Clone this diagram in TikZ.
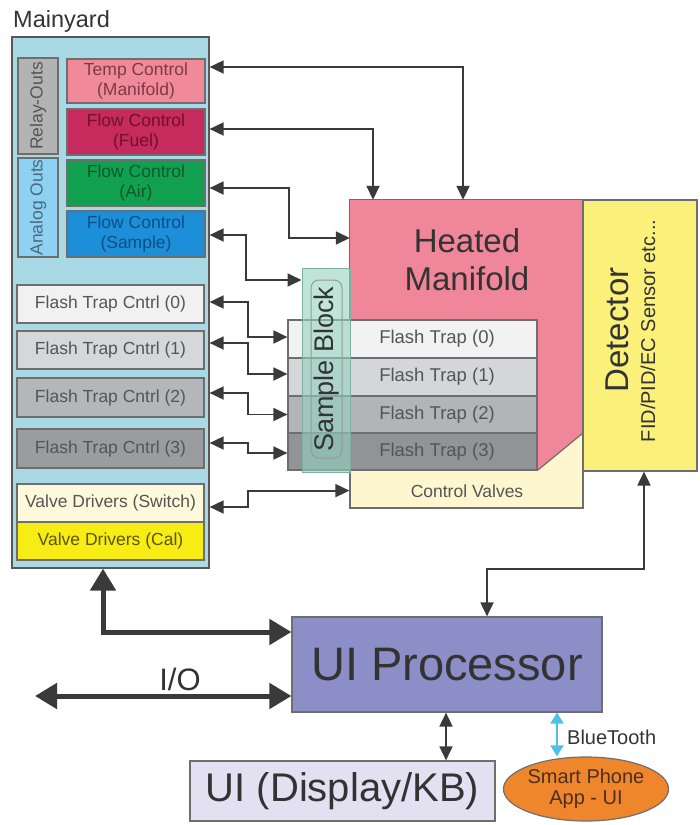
\documentclass[tikz,border=0pt]{standalone}
\usepackage{fontspec}
\setmainfont{Liberation Sans}
\usetikzlibrary{arrows.meta,calc,shapes.geometric}
\newcommand\fsz[2]{\fontsize{#1}{#2}\selectfont}

\definecolor{cpanel}{HTML}{A9D9E4}
\definecolor{crelay}{HTML}{B3B3B3}
\definecolor{canalog}{HTML}{8ED1F2}
\definecolor{ctemp}{HTML}{F08A9B}
\definecolor{cfuel}{HTML}{C72A5C}
\definecolor{cair}{HTML}{11A04F}
\definecolor{csamp}{HTML}{1C8FD8}
\definecolor{cftcA}{HTML}{F1F1F1}
\definecolor{cftcB}{HTML}{D5D7D9}
\definecolor{cftcC}{HTML}{B5B6B8}
\definecolor{cftcD}{HTML}{9B9C9E}
\definecolor{cvds}{HTML}{FDF9DA}
\definecolor{cvdc}{HTML}{F7EC14}
\definecolor{cmani}{HTML}{F08699}
\definecolor{ccv}{HTML}{FDF6CF}
\definecolor{cdet}{HTML}{FAF07A}
\definecolor{cftA}{HTML}{F2F2F2}
\definecolor{cftB}{HTML}{D4D6D9}
\definecolor{cftC}{HTML}{B3B4B6}
\definecolor{cftD}{HTML}{929396}
\definecolor{csb}{HTML}{92D3BD}
\definecolor{csbline}{HTML}{7FAFA0}
\definecolor{cuip}{HTML}{8C8FC7}
\definecolor{cdisp}{HTML}{E3E1F1}
\definecolor{cphone}{HTML}{F0862C}
\definecolor{cbt}{HTML}{4FC1E9}
\definecolor{cline}{HTML}{3A3A3A}
\definecolor{cborder}{HTML}{6E6E6E}
\definecolor{tdark}{HTML}{333333}
\definecolor{tgray}{HTML}{555555}
\definecolor{ttemp}{HTML}{7D3A46}
\definecolor{tfuel}{HTML}{6E1030}
\definecolor{tair}{HTML}{0B5A2C}
\definecolor{tsamp}{HTML}{0B4F86}
\definecolor{tanalog}{HTML}{4A6A80}
\definecolor{tvdc}{HTML}{5C5500}
\definecolor{tphone}{HTML}{4A3020}

\tikzset{
  box/.style={draw=cborder, line width=1.2pt, inner sep=0pt, align=center, font=\fsz{17.5}{20}, text=tgray},
  con/.style={draw=cline, line width=1.8pt, >={Triangle[length=14pt,width=13pt]}, <->},
  bigcon/.style={draw=cline, line width=5pt, >={Triangle[length=22pt,width=25pt]}, <->},
  btcon/.style={draw=cbt, line width=2pt, >={Triangle[length=11pt,width=13pt]}, <->},
  fttext/.style={font=\fsz{18.5}{20}, text=tgray, inner sep=0pt},
}

\begin{document}
\begin{tikzpicture}[x=1pt,y=-1pt]
\useasboundingbox (0,0) rectangle (700,825);

% Mainyard panel
\node[box, fill=cpanel, draw=cborder!80!black, minimum width=197pt, minimum height=531pt] (panel) at (110.5,302.5) {};
\node[anchor=base west, inner sep=0pt, font=\fsz{23.5}{26}, text=tdark] (title) at (13,27) {Mainyard};

\node[box, rotate=90, fill=crelay, minimum width=96pt, minimum height=40pt] (relay) at (38,106) {Relay-Outs};
\node[box, rotate=90, fill=canalog, text=tanalog, minimum width=99pt, minimum height=40pt] (analog) at (38,207.5) {Analog Outs};

\node[box, fill=ctemp, text=ttemp, minimum width=138pt, minimum height=44pt] (temp) at (136,81) {Temp Control\\(Manifold)};
\node[box, fill=cfuel, text=tfuel, minimum width=138pt, minimum height=46pt] (fuel) at (136,132) {Flow Control\\(Fuel)};
\node[box, fill=cair, text=tair, minimum width=138pt, minimum height=46pt] (air) at (136,183) {Flow Control\\(Air)};
\node[box, fill=csamp, text=tsamp, minimum width=138pt, minimum height=46pt] (samp) at (136,234) {Flow Control\\(Sample)};

\node[box, fill=cftcA, minimum width=187pt, minimum height=38pt] (ftc0) at (110.5,304) {Flash Trap Cntrl (0)};
\node[box, fill=cftcB, minimum width=187pt, minimum height=38pt] (ftc1) at (110.5,350) {Flash Trap Cntrl (1)};
\node[box, fill=cftcC, minimum width=187pt, minimum height=39pt] (ftc2) at (110.5,397.5) {Flash Trap Cntrl (2)};
\node[box, fill=cftcD, minimum width=187pt, minimum height=39pt] (ftc3) at (110.5,448.5) {Flash Trap Cntrl (3)};
\node[box, fill=cvds, minimum width=187pt, minimum height=38pt] (vds) at (110.5,503) {Valve Drivers (Switch)};
\node[box, fill=cvdc, text=tvdc, minimum width=187pt, minimum height=38pt] (vdc) at (110.5,541) {Valve Drivers (Cal)};

% Heated manifold with control valves
\node[draw=cborder, line width=1.2pt, fill=ccv, minimum width=233pt, minimum height=308pt, inner sep=0pt] (cv) at (466.5,354) {};
\node[fill=cmani, minimum width=233pt, minimum height=270pt, inner sep=0pt] (manifold) at (466.5,335) {};
\fill[ccv] (583,433) -- (583,470) -- (538,470) -- cycle;
\draw[cborder, line width=1.2pt] (538,470) -- (583,433);
\draw[cborder, line width=1.2pt] (cv.north west) rectangle (cv.south east);
\node[anchor=north, inner sep=0pt, align=center, font=\fsz{33}{38}, text=tdark] (mantxt) at (467,228) {Heated\\Manifold};
\node[font=\fsz{17.5}{18}, text=tgray, inner sep=0pt] (cvtxt) at (467,491) {Control Valves};

% Flash trap stack
\node[box, fill=cftA, minimum width=249pt, minimum height=38pt] (ft0) at (412.5,339) {};
\node[box, fill=cftB, minimum width=249pt, minimum height=38pt] (ft1) at (412.5,377) {};
\node[box, fill=cftC, minimum width=249pt, minimum height=37pt] (ft2) at (412.5,414.5) {};
\node[box, fill=cftD, minimum width=249pt, minimum height=37pt] (ft3) at (412.5,451.5) {};
\node[fttext] (ft0t) at (437,339) {Flash Trap (0)};
\node[fttext] (ft1t) at (437,377) {Flash Trap (1)};
\node[fttext] (ft2t) at (437,414.5) {Flash Trap (2)};
\node[fttext] (ft3t) at (437,451.5) {Flash Trap (3)};

% Sample block
\node[draw=csbline, line width=1pt, fill=csb, fill opacity=0.6, minimum width=48pt, minimum height=204pt, inner sep=0pt] (sblock) at (326,370) {};
\node[draw=cborder!70, line width=1pt, rounded corners=8pt, rotate=90, minimum width=178pt, minimum height=31pt, inner sep=0pt, font=\fsz{27}{30}, text=tdark] (sbtxt) at (326.5,369) {Sample Block};

% Detector
\node[draw=cborder, line width=1.2pt, fill=cdet, minimum width=114pt, minimum height=271pt, inner sep=0pt] (det) at (640,335.5) {};
\node[rotate=90, inner sep=0pt, font=\fsz{33}{36}, text=tdark] (dettxt) at (617,330) {Detector};
\node[rotate=90, inner sep=0pt, font=\fsz{20}{22}, text=tdark] (detsub) at (648,331) {FID/PID/EC Sensor etc...};

% UI blocks
\node[box, fill=cuip, text=tdark, minimum width=310pt, minimum height=95pt, font=\fsz{47}{50}] (uip) at (447,664.5) {UI Processor};
\node[box, fill=cdisp, text=tdark, minimum width=305pt, minimum height=60pt, font=\fsz{40}{42}] (disp) at (342.5,791) {UI (Display/KB)};
\node[ellipse, draw=cborder, line width=1.2pt, fill=cphone, minimum width=140pt, minimum height=64pt, inner sep=0pt, align=center, font=\fsz{20}{21}, text=tphone] (phone) at (586,789) {Smart Phone\\App - UI};

% Connectors from Mainyard
\draw[con] ([yshift=14pt]temp.east -| panel.east) -| ([xshift=-3.5pt]manifold.north);
\draw[con] ([yshift=3pt]fuel.east -| panel.east) -| ([xshift=-93.5pt]manifold.north);
\draw[con] ([yshift=-5pt]air.east -| panel.east) -- ++(79,0) |- ([yshift=97pt]manifold.west);
\draw[con] ([yshift=-1pt]samp.east -| panel.east) -- ++(36,0) |- ([yshift=90pt]sblock.west);
\draw[con] ([yshift=2pt]ftc0.east -| panel.east) -- ++(38,0) |- ([yshift=2pt]ft0.west);
\draw[con] ([yshift=7pt]ftc1.east -| panel.east) -- ++(38,0) |- ([yshift=3pt]ft1.west);
\draw[con] ([yshift=4.5pt]ftc2.east -| panel.east) -- ++(38,0) |- (ft2.west);
\draw[con] ([yshift=5.5pt]ftc3.east -| panel.east) -- ++(38,0) |- ([yshift=-1.5pt]ft3.west);
\draw[con] ([yshift=-4pt]vds.east -| panel.east) -- ++(38,0) |- ([yshift=18pt]cv.south west);

% Detector to UI processor
\draw[con] ([xshift=4pt]det.south) -- ++(0,97) -| ([xshift=40pt]uip.north);

% Thick connectors
\draw[bigcon] ([xshift=-7.5pt]panel.south) |- ([yshift=32.5pt]uip.west);
\coordinate (ioend) at (35,696);
\draw[bigcon] (ioend) -- (ioend -| uip.west);
\node[font=\fsz{31}{32}, text=tdark, inner sep=0pt] (iolabel) at (180,679) {I/O};

% UI processor to display and phone
\draw[con] ([xshift=-1pt]uip.south) -- ([xshift=-1pt]uip.south |- disp.north);
\draw[btcon] ([xshift=110pt]uip.south) -- ([xshift=110pt]uip.south |- phone.north);
\node[anchor=west, inner sep=0pt, font=\fsz{20}{21}, text=tdark] (bt) at (567,737) {BlueTooth};
\end{tikzpicture}
\end{document}
